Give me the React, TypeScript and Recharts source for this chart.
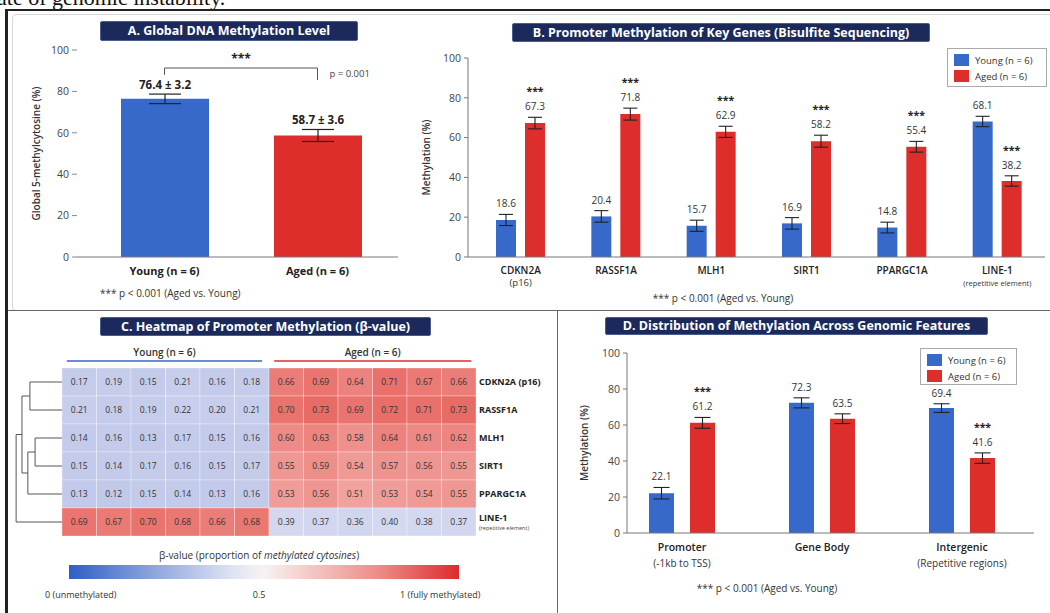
import React from 'react';
import {
  BarChart,
  Bar,
  XAxis,
  YAxis,
  ErrorBar,
  LabelList,
  ReferenceLine,
  Cell,
  ScatterChart,
  Scatter,
} from 'recharts';

const BLUE = '#3669c9';
const RED = '#dd2e2c';
const NAVY = '#1b2a5b';
const FONT = '"Open Sans", "Noto Sans", Arial, sans-serif';

// series shared by every panel
const groups = ['Young (n = 6)', 'Aged (n = 6)'];
const groupColors = [BLUE, RED];

// A. global 5mC
const globalMeans = [76.4, 58.7];
const globalSd = [3.2, 3.6];
const globalErr = [2.3, 2.9];
const bracketLevels = [91.3, 88, 85.5]; // top, left foot, right foot

// B. promoter methylation
const genes = ['CDKN2A', 'RASSF1A', 'MLH1', 'SIRT1', 'PPARGC1A', 'LINE-1'];
const geneNotes = ['(p16)', '', '', '', '', '(repetitive element)'];
const geneYoung = [18.6, 20.4, 15.7, 16.9, 14.8, 68.1];
const geneAged = [67.3, 71.8, 62.9, 58.2, 55.4, 38.2];
const geneYoungErr = [2.8, 2.9, 2.8, 2.9, 2.7, 2.6];
const geneAgedErr = [2.9, 3.0, 2.8, 3.0, 2.7, 2.6];
const geneSig = ['***', '***', '***', '***', '***', '***'];

// C. heatmap (beta values)
const heatRows = ['CDKN2A (p16)', 'RASSF1A', 'MLH1', 'SIRT1', 'PPARGC1A', 'LINE-1'];
const heatYoung = [
  [0.17, 0.19, 0.15, 0.21, 0.16, 0.18],
  [0.21, 0.18, 0.19, 0.22, 0.2, 0.21],
  [0.14, 0.16, 0.13, 0.17, 0.15, 0.16],
  [0.15, 0.14, 0.17, 0.16, 0.15, 0.17],
  [0.13, 0.12, 0.15, 0.14, 0.13, 0.16],
  [0.69, 0.67, 0.7, 0.68, 0.66, 0.68],
];
const heatAged = [
  [0.66, 0.69, 0.64, 0.71, 0.67, 0.66],
  [0.7, 0.73, 0.69, 0.72, 0.71, 0.73],
  [0.6, 0.63, 0.58, 0.64, 0.61, 0.62],
  [0.55, 0.59, 0.54, 0.57, 0.56, 0.55],
  [0.53, 0.56, 0.51, 0.53, 0.54, 0.55],
  [0.39, 0.37, 0.36, 0.4, 0.38, 0.37],
];
// row clustering, join levels in column units left of the grid
const dendroTree: any = {
  at: -1.83,
  kids: [
    { at: -1.66, kids: [{ at: -1.43, kids: [0, 1] }, { at: -1.49, kids: [{ at: -1.28, kids: [2, 3] }, 4] }] },
    5,
  ],
};

// D. genomic features
const features = ['Promoter', 'Gene Body', 'Intergenic'];
const featureNotes = ['(-1kb to TSS)', '', '(Repetitive regions)'];
const featureYoung = [22.1, 72.3, 69.4];
const featureAged = [61.2, 63.5, 41.6];
const featureYoungErr = [3.2, 2.8, 2.4];
const featureAgedErr = [3.0, 2.7, 2.9];
const featureSig = ['***', '', '***'];

const pctTicks = [0, 20, 40, 60, 80, 100];

const globalData = groups.map((g, i) => ({ name: g, value: globalMeans[i], err: globalErr[i] }));
const geneData = genes.map((g, i) => ({
  name: g, young: geneYoung[i], aged: geneAged[i], youngErr: geneYoungErr[i], agedErr: geneAgedErr[i],
}));
const featureData = features.map((f, i) => ({
  name: f, young: featureYoung[i], aged: featureAged[i], youngErr: featureYoungErr[i], agedErr: featureAgedErr[i],
}));
const heatData = heatRows.flatMap((_, r) =>
  [...heatYoung[r], ...heatAged[r]].map((v, c) => ({ col: c, row: r, v }))
);

const mix = (rgb: number[], k: number) =>
  `rgb(${rgb.map((c) => Math.round(255 - (255 - c) * k)).join(',')})`;

function heatColor(v: number) {
  if (v >= 0.5) return mix([224, 52, 44], Math.min(0.85, 0.45 + (v - 0.5) * 1.2));
  return mix([70, 92, 190], Math.min(0.6, 0.2 + (0.5 - v) * 0.35));
}

function dendroSegments(node: any, out: any[]): { x: number; y: number } {
  if (typeof node === 'number') return { x: -0.5, y: node };
  const kids = node.kids.map((k: any) => dendroSegments(k, out));
  kids.forEach((k: any) => out.push([{ x: node.at, y: k.y }, { x: k.x, y: k.y }]));
  out.push([{ x: node.at, y: kids[0].y }, { x: node.at, y: kids[1].y }]);
  return { x: node.at, y: (kids[0].y + kids[1].y) / 2 };
}
const dendroLines: any[] = [];
dendroSegments(dendroTree, dendroLines);

const yTick = { fontSize: 10.5, fill: '#444', fontFamily: FONT };
const yTitle = (value: string, dx: number) => ({
  value, angle: -90, position: 'center' as const, dx,
  fontSize: 10, fontWeight: 600, fill: '#333', fontFamily: FONT,
});

const barLabel = (values: number[], errs: number[], sig: string[] | null) => (p: any) => {
  const vb = p.viewBox ?? p;
  const { x, y, width, height } = vb;
  const i = p.index ?? values.indexOf(p.value);
  const px = p.value ? height / p.value : 0;
  const top = y - errs[i] * px;
  const cx = x + width / 2;
  return (
    <g fontFamily={FONT}>
      <text x={cx} y={top - 7} textAnchor="middle" fontSize={10} fill="#333">{values[i]}</text>
      {sig && sig[i] ? (
        <text x={cx} y={top - 22} textAnchor="middle" fontSize={10.5} fontWeight={700} fill="#222">{sig[i]}</text>
      ) : null}
    </g>
  );
};

const globalLabel = (p: any) => {
  const vb = p.viewBox ?? p;
  const { x, y, width, height } = vb;
  const i = p.index ?? globalMeans.indexOf(p.value);
  const top = y - globalErr[i] * (height / globalMeans[i]);
  return (
    <text x={x + width / 2} y={top - 5} textAnchor="middle" fontSize={11.5} fontWeight={700} fill="#222" fontFamily={FONT}>
      {`${globalMeans[i]} ± ${globalSd[i]}`}
    </text>
  );
};

const twoLineTick = (names: string[], notes: string[], nameDy: number, noteDy: number, size: number) => (p: any) => {
  const i = names.indexOf(p.payload.value);
  const small = notes[i] && notes[i].startsWith('(repetitive');
  return (
    <g fontFamily={FONT}>
      <text x={p.x} y={p.y + nameDy} textAnchor="middle" fontSize={size} fontWeight={600} fill="#222">{p.payload.value}</text>
      {notes[i] ? (
        <text x={p.x} y={p.y + noteDy} textAnchor="middle" fontSize={small ? 7.5 : size - 0.5} fill="#333">{notes[i]}</text>
      ) : null}
    </g>
  );
};

const CELL_W = 34.5;
const CELL_H = 28;
const HeatCell = (p: any) => (
  <g>
    <rect x={p.cx - CELL_W / 2} y={p.cy - CELL_H / 2} width={CELL_W} height={CELL_H}
      fill={heatColor(p.payload.v)} stroke="rgba(255,255,255,0.5)" strokeWidth={0.6} />
    <text x={p.cx} y={p.cy + 3} textAnchor="middle" fontSize={8.5} fill="#333" fontFamily={FONT}>
      {p.payload.v.toFixed(2)}
    </text>
  </g>
);

const RowTick = (p: any) => {
  const i = p.payload.value;
  const isLine = i === heatRows.length - 1;
  return (
    <g fontFamily={FONT}>
      <text x={p.x} y={p.y + (isLine ? -1 : 3)} fontSize={9} fontWeight={700} fill="#222">{heatRows[i]}</text>
      {isLine ? <text x={p.x} y={p.y + 8} fontSize={5.5} fill="#444">(repetitive element)</text> : null}
    </g>
  );
};

function PanelTitle({ x, y, w, h, text }: any) {
  return (
    <div style={{
      position: 'absolute', left: x, top: y, width: w, height: h, boxSizing: 'border-box',
      background: NAVY, border: '1px solid #4b5c8e', borderRadius: 2, color: '#fff',
      fontWeight: 700, fontSize: 12.5, lineHeight: `${h - 2}px`, textAlign: 'center', whiteSpace: 'nowrap',
    }}>{text}</div>
  );
}

function SeriesLegend({ left, top, width, height }: any) {
  return (
    <div style={{
      position: 'absolute', left, top, width, height, boxSizing: 'border-box', border: '1px solid #aaa',
      background: '#fff', padding: '3px 0 0 6px', fontSize: 9.5, color: '#333',
    }}>
      {groups.map((g, i) => (
        <div key={g} style={{ display: 'flex', alignItems: 'center', height: 16 }}>
          <span style={{ display: 'inline-block', width: 15, height: 12, background: groupColors[i], marginRight: 6 }} />
          {g}
        </div>
      ))}
    </div>
  );
}

function Note({ x, y, center, children, size = 10 }: any) {
  return (
    <div style={{
      position: 'absolute', left: x, top: y, fontSize: size, color: '#333', whiteSpace: 'nowrap',
      transform: center ? 'translateX(-50%)' : undefined, lineHeight: 1,
    }}>{children}</div>
  );
}

export default function App() {
  return (
    <div style={{ position: 'absolute', left: 0, top: 0, width: 1050, height: 613, overflow: 'hidden', background: '#fff', fontFamily: FONT }}>
      <div style={{ position: 'absolute', left: -3, top: -13, fontFamily: '"Liberation Serif", "DejaVu Serif", serif', fontSize: 22, lineHeight: '22px', whiteSpace: 'nowrap', color: '#111' }}>
        ate of genomic instability.
      </div>

      {/* frame */}
      <div style={{ position: 'absolute', left: 5, top: 9, width: 1060, height: 620, borderTop: '2px solid #222', borderLeft: '3px solid #222' }} />
      <div style={{ position: 'absolute', left: 12, top: 14, width: 1050, height: 295, border: '1px solid #d6d6d6', borderRadius: 4 }} />
      <div style={{ position: 'absolute', left: 8, top: 310, width: 1042, height: 1, background: '#666' }} />
      <div style={{ position: 'absolute', left: 557, top: 311, width: 1, height: 302, background: '#666' }} />

      {/* A */}
      <PanelTitle x={100} y={21} w={258} h={20} text="A. Global DNA Methylation Level" />
      <div style={{ position: 'absolute', left: 12, top: 30 }}>
        <BarChart width={400} height={280} data={globalData} margin={{ top: 20, right: 14, bottom: 23, left: 25 }} barSize={88}>
          <XAxis dataKey="name" interval={0} padding={{ left: 11, right: 4 }} axisLine={{ stroke: '#777' }} tickLine={false}
            tickSize={0} tickMargin={10} height={30} tick={{ fontSize: 11, fontWeight: 700, fill: '#222', fontFamily: FONT }} />
          <YAxis domain={[0, 100]} ticks={pctTicks} width={40} axisLine={false} tickLine={{ stroke: '#888' }} tickSize={5}
            tickMargin={3} tick={yTick} label={yTitle('Global 5-methylcytosine (%)', -21)} />
          <ReferenceLine segment={[{ x: groups[0], y: bracketLevels[0] }, { x: groups[1], y: bracketLevels[0] }]}
            stroke="#555" ifOverflow="visible"
            label={{ value: '***', position: 'top', fontSize: 12, fontWeight: 700, fill: '#222', fontFamily: FONT }} />
          <ReferenceLine segment={[{ x: groups[0], y: bracketLevels[0] }, { x: groups[0], y: bracketLevels[1] }]}
            stroke="#555" ifOverflow="visible" />
          <ReferenceLine segment={[{ x: groups[1], y: bracketLevels[0] }, { x: groups[1], y: bracketLevels[2] }]}
            stroke="#555" ifOverflow="visible"
            label={{ value: 'p = 0.001', position: 'right', offset: 12, fontSize: 9.5, fill: '#444', fontFamily: FONT }} />
          <Bar dataKey="value" isAnimationActive={false}>
            {globalData.map((d, i) => <Cell key={d.name} fill={groupColors[i]} />)}
            <ErrorBar dataKey="err" width={16} stroke="#222" strokeWidth={1.2} />
            <LabelList dataKey="value" content={globalLabel} />
          </Bar>
        </BarChart>
      </div>
      <Note x={100} y={288}>*** p &lt; 0.001 (Aged vs. Young)</Note>

      {/* B */}
      <PanelTitle x={512} y={23} w={418} h={19} text="B. Promoter Methylation of Key Genes (Bisulfite Sequencing)" />
      <div style={{ position: 'absolute', left: 415, top: 40 }}>
        <BarChart width={635} height={270} data={geneData} margin={{ top: 18, right: 5, bottom: 18, left: 15 }} barSize={20} barGap={9}>
          <XAxis dataKey="name" interval={0} padding={{ left: 5, right: 0 }} axisLine={{ stroke: '#777' }} tickLine={false}
            tickSize={0} tickMargin={0} height={35} tick={twoLineTick(genes, geneNotes, 17, 29, 10)} />
          <YAxis domain={[0, 100]} ticks={pctTicks} width={38} axisLine={{ stroke: '#777' }} tickLine={{ stroke: '#777' }}
            tickSize={4} tickMargin={3} tick={yTick} label={yTitle('Methylation (%)', -23)} />
          <Bar dataKey="young" fill={BLUE} isAnimationActive={false}>
            <ErrorBar dataKey="youngErr" width={7} stroke="#222" strokeWidth={1.1} />
            <LabelList dataKey="young" content={barLabel(geneYoung, geneYoungErr, null)} />
          </Bar>
          <Bar dataKey="aged" fill={RED} isAnimationActive={false}>
            <ErrorBar dataKey="agedErr" width={7} stroke="#222" strokeWidth={1.1} />
            <LabelList dataKey="aged" content={barLabel(geneAged, geneAgedErr, geneSig)} />
          </Bar>
        </BarChart>
      </div>
      <SeriesLegend left={947} top={48} width={100} height={39} />
      <Note x={723} y={293} center>*** p &lt; 0.001 (Aged vs. Young)</Note>

      {/* C */}
      <PanelTitle x={100} y={317} w={331} h={19} text="C. Heatmap of Promoter Methylation (β-value)" />
      <div style={{ position: 'absolute', left: 10, top: 340 }}>
        <ScatterChart width={545} height={202} margin={{ top: 28, right: 4, bottom: 6, left: 52 }}>
          <XAxis type="number" dataKey="col" domain={[-0.5, 11.5]} allowDataOverflow hide />
          <YAxis type="number" dataKey="row" domain={[-0.5, 5.5]} allowDataOverflow reversed orientation="right"
            ticks={[0, 1, 2, 3, 4, 5]} width={75} axisLine={false} tickLine={false} tickSize={0} tickMargin={3} tick={RowTick} />
          <Scatter data={heatData} shape={HeatCell} isAnimationActive={false} />
          {dendroLines.map((seg, i) => (
            <ReferenceLine key={`d${i}`} segment={seg} stroke="#555" strokeWidth={1} ifOverflow="visible" />
          ))}
          <ReferenceLine segment={[{ x: -0.36, y: -0.75 }, { x: 5.3, y: -0.75 }]} stroke={BLUE} strokeWidth={1.5}
            ifOverflow="visible"
            label={{ value: groups[0], position: 'top', fontSize: 10, fontWeight: 600, fill: '#333', fontFamily: FONT }} />
          <ReferenceLine segment={[{ x: 5.65, y: -0.75 }, { x: 11.36, y: -0.75 }]} stroke={RED} strokeWidth={1.5}
            ifOverflow="visible"
            label={{ value: groups[1], position: 'top', fontSize: 10, fontWeight: 600, fill: '#333', fontFamily: FONT }} />
        </ScatterChart>
      </div>
      <Note x={259} y={550} center>β-value (proportion of <i>methylated cytosines</i>)</Note>
      <div style={{
        position: 'absolute', left: 69, top: 565, width: 390, height: 14,
        background: 'linear-gradient(to right, #2f5ec7 0%, #8fa6dd 22%, #dfe4f3 42%, #f7f3f3 50%, #f5cfcc 60%, #ec8a85 80%, #dc2b2d 100%)',
      }} />
      <Note x={45} y={590} size={9}>0 (unmethylated)</Note>
      <Note x={259} y={590} size={9} center>0.5</Note>
      <Note x={400} y={590} size={9}>1 (fully methylated)</Note>

      {/* D */}
      <PanelTitle x={605} y={317} w={383} h={18} text="D. Distribution of Methylation Across Genomic Features" />
      <div style={{ position: 'absolute', left: 560, top: 338 }}>
        <BarChart width={490} height={270} data={featureData} margin={{ top: 15, right: 16, bottom: 35, left: 27 }} barSize={25} barGap={16}>
          <XAxis dataKey="name" interval={0} padding={{ left: -15, right: 2 }} axisLine={{ stroke: '#777' }} tickLine={false}
            tickSize={0} tickMargin={0} height={40} tick={twoLineTick(features, featureNotes, 18, 34, 10.5)} />
          <YAxis domain={[0, 100]} ticks={pctTicks} width={40} axisLine={{ stroke: '#777' }} tickLine={{ stroke: '#777' }}
            tickSize={4} tickMargin={3} tick={yTick} label={yTitle('Methylation (%)', -23)} />
          <Bar dataKey="young" fill={BLUE} isAnimationActive={false}>
            <ErrorBar dataKey="youngErr" width={8} stroke="#222" strokeWidth={1.1} />
            <LabelList dataKey="young" content={barLabel(featureYoung, featureYoungErr, null)} />
          </Bar>
          <Bar dataKey="aged" fill={RED} isAnimationActive={false}>
            <ErrorBar dataKey="agedErr" width={8} stroke="#222" strokeWidth={1.1} />
            <LabelList dataKey="aged" content={barLabel(featureAged, featureAgedErr, featureSig)} />
          </Bar>
        </BarChart>
      </div>
      <SeriesLegend left={920} top={348} width={97} height={37} />
      <Note x={767} y={583} center>*** p &lt; 0.001 (Aged vs. Young)</Note>
    </div>
  );
}
